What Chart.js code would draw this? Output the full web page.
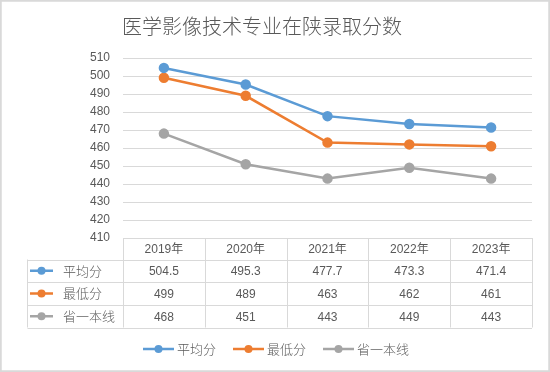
<!DOCTYPE html>
<html>
<head>
<meta charset="utf-8">
<script src="https://cdn.jsdelivr.net/npm/chart.js@4"></script>
<style>
  html, body { margin: 0; padding: 0; background: #fff; }
  #wrap { width: 550px; height: 372px; position: relative; }
</style>
</head>
<body>
<div id="wrap"><canvas id="chart" width="550" height="372"></canvas></div>
<script>
const title = '医学影像技术专业在陕录取分数';
const years = ['2019年', '2020年', '2021年', '2022年', '2023年'];
const seriesNames = ['平均分', '最低分', '省一本线'];
const avgScores = [504.5, 495.3, 477.7, 473.3, 471.4];
const minScores = [499, 489, 463, 462, 461];
const lineScores = [468, 451, 443, 449, 443];
const avgLabels = ['504.5', '495.3', '477.7', '473.3', '471.4'];
const colors = ['#5B9BD5', '#ED7D31', '#A5A5A5'];

const allValues = [avgScores, minScores, lineScores];
const allLabels = [avgLabels, minScores.map(String), lineScores.map(String)];

const numFont = "12px 'Liberation Sans', 'Noto Sans CJK SC', sans-serif";
const cjkFont = "300 13px 'Noto Sans CJK SC', sans-serif";
const textColor = '#595959';
const lineColor = '#D9D9D9';

function marker(ctx, x0, x1, y, color) {
    ctx.strokeStyle = color;
    ctx.lineWidth = 2.5;
    ctx.beginPath();
    ctx.moveTo(x0, y);
    ctx.lineTo(x1, y);
    ctx.stroke();
    ctx.fillStyle = color;
    ctx.beginPath();
    ctx.arc((x0 + x1) / 2, y, 4, 0, Math.PI * 2);
    ctx.fill();
}

// draws title, data table, legend and frame
const tablePlugin = {
    id: 'excelTable',
    afterDraw(chart) {
        const ctx = chart.ctx;
        const xs = chart.scales.x;
        const ys = chart.scales.y;
        const left = xs.left, right = xs.right;
        const colW = (right - left) / years.length;
        const rows = [ys.bottom, 259.5, 282, 305, 327.5];
        const labelLeft = 27.5;

        ctx.save();
        // title
        ctx.fillStyle = textColor;
        ctx.font = "300 20px 'Noto Sans CJK SC', sans-serif";
        ctx.textAlign = 'center';
        ctx.textBaseline = 'middle';
        ctx.fillText(title, 262, 26);

        // table lines
        ctx.strokeStyle = lineColor;
        ctx.lineWidth = 1;
        ctx.beginPath();
        for (let r = 1; r < rows.length; r++) {
            const y = Math.round(rows[r]) + 0.5;
            ctx.moveTo(labelLeft, y);
            ctx.lineTo(right, y);
        }
        for (let c = 0; c <= years.length; c++) {
            const x = Math.round(left + c * colW) + 0.5;
            ctx.moveTo(x, rows[0]);
            ctx.lineTo(x, rows[4]);
        }
        ctx.moveTo(labelLeft, rows[1]);
        ctx.lineTo(labelLeft, rows[4]);
        ctx.stroke();

        // header
        ctx.fillStyle = textColor;
        ctx.font = numFont;
        years.forEach((yr, i) => {
            ctx.fillText(yr, xs.getPixelForValue(i), (rows[0] + rows[1]) / 2 + 1);
        });

        // rows
        for (let s = 0; s < seriesNames.length; s++) {
            const cy = (rows[s + 1] + rows[s + 2]) / 2;
            marker(ctx, 30, 53, cy, colors[s]);
            ctx.fillStyle = textColor;
            ctx.font = cjkFont;
            ctx.textAlign = 'left';
            ctx.fillText(seriesNames[s], 63, cy);
            ctx.font = numFont;
            ctx.textAlign = 'center';
            allLabels[s].forEach((v, i) => {
                ctx.fillText(v, xs.getPixelForValue(i), cy + 1);
            });
        }

        // legend
        const legendX = [143, 233, 323];
        const legendY = 349;
        for (let s = 0; s < seriesNames.length; s++) {
            marker(ctx, legendX[s], legendX[s] + 31, legendY, colors[s]);
            ctx.fillStyle = textColor;
            ctx.font = cjkFont;
            ctx.textAlign = 'left';
            ctx.fillText(seriesNames[s], legendX[s] + 34, legendY);
        }

        // outer frame
        ctx.strokeStyle = lineColor;
        ctx.strokeRect(0.5, 0.5, chart.width - 1, chart.height - 1);
        ctx.restore();
    }
};

const ctx = document.getElementById('chart').getContext('2d');
const chart = new Chart(ctx, {
    type: 'line',
    data: {
        labels: years,
        datasets: seriesNames.map((name, s) => ({
            label: name,
            data: allValues[s],
            borderColor: colors[s],
            backgroundColor: colors[s],
            borderWidth: 2.5,
            pointRadius: 4,
            pointHoverRadius: 4,
            tension: 0
        }))
    },
    options: {
        responsive: false,
        animation: false,
        layout: { padding: { top: 58, bottom: 134, right: 18, left: 0 } },
        plugins: {
            legend: { display: false },
            title: { display: false },
            tooltip: { enabled: false }
        },
        scales: {
            x: {
                offset: true,
                afterFit(scale) { scale.height = 0; },
                ticks: { display: false },
                grid: { display: false },
                border: { display: false }
            },
            y: {
                min: 410,
                max: 510,
                afterFit(scale) { scale.width = 123; },
                ticks: {
                    stepSize: 10,
                    padding: 13,
                    color: textColor,
                    font: { family: "'Liberation Sans', sans-serif", size: 12 }
                },
                grid: { color: lineColor, drawTicks: false },
                border: { display: false }
            }
        }
    },
    plugins: [tablePlugin]
});
</script>
</body>
</html>
